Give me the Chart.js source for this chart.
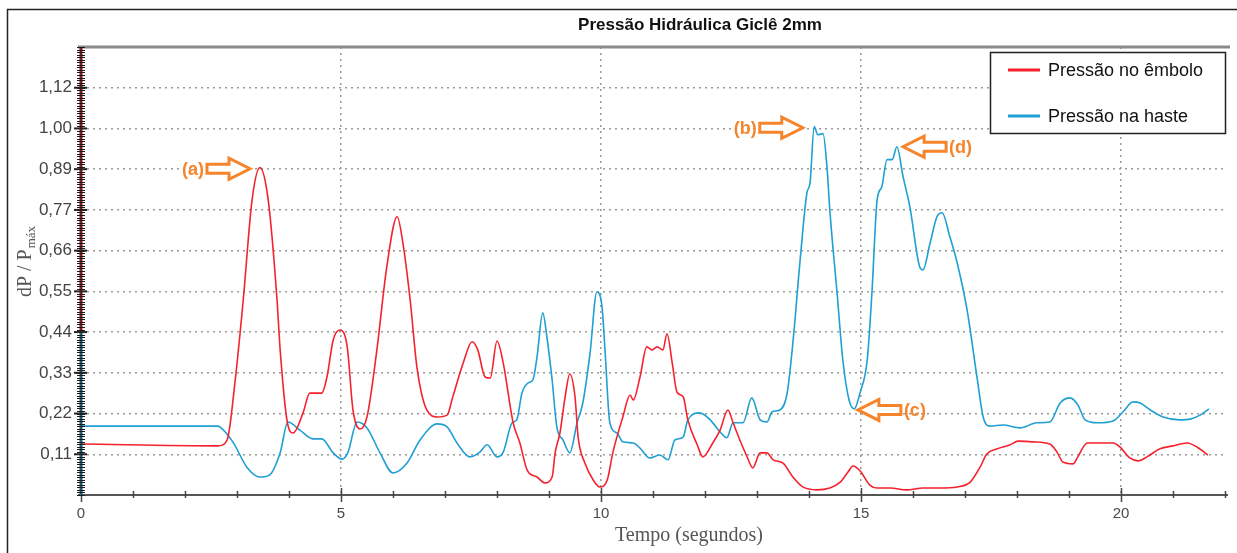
<!DOCTYPE html>
<html><head><meta charset="utf-8">
<script src="https://cdn.jsdelivr.net/npm/chart.js@4.4.0/dist/chart.umd.min.js"></script>
<style>html,body{margin:0;padding:0;background:#fff;}canvas{display:block;}</style>
</head><body>
<canvas id="c" width="1237" height="553"></canvas>
<script>
const chartTitle = 'Pressão Hidráulica Giclê 2mm';
const xAxisTitle = 'Tempo (segundos)';
const yAxisTitleMain = 'dP / P';
const yAxisTitleSub = 'máx';
const seriesNames = ['Pressão no êmbolo', 'Pressão na haste'];
const seriesColors = ['#f5222d', '#1f9fd3'];
const yTickLabels = ['0,11','0,22','0,33','0,44','0,55','0,66','0,77','0,89','1,00','1,12'];
const xLabelledTicks = [0, 5, 10, 15, 20];

const redTime = [0.00,2.63,2.81,2.96,3.12,3.29,3.44,3.60,3.77,3.83,
3.96,4.08,4.27,4.40,4.63,4.73,4.85,4.98,5.12,5.23,
5.37,5.50,5.69,5.88,6.08,6.19,6.33,6.46,6.65,6.85,
7.04,7.15,7.35,7.52,7.63,7.77,7.87,8.00,8.12,8.31,
8.44,8.58,8.77,8.92,9.06,9.12,9.21,9.31,9.40,9.50,
9.56,9.69,9.85,9.98,10.12,10.23,10.42,10.56,10.62,10.75,
10.88,10.98,11.08,11.19,11.27,11.37,11.46,11.58,11.67,11.85,
11.96,12.15,12.29,12.44,12.54,12.67,12.81,12.92,13.06,13.19,
13.31,13.50,13.69,13.88,14.15,14.40,14.60,14.75,14.85,14.98,
15.17,15.31,15.56,15.88,16.19,16.52,16.85,17.10,17.29,17.42,
17.62,17.87,18.02,18.31,18.63,18.77,18.88,19.08,19.17,19.35,
19.60,19.85,19.98,20.17,20.33,20.50,20.75,21.00,21.27,21.46,
21.67];
const redValue = [0.139,0.134,0.150,0.306,0.532,0.805,0.893,0.805,0.532,0.396,
0.205,0.169,0.224,0.278,0.278,0.322,0.423,0.450,0.404,0.232,
0.180,0.213,0.396,0.622,0.759,0.688,0.532,0.349,0.232,0.213,
0.218,0.268,0.360,0.418,0.396,0.322,0.319,0.420,0.360,0.197,
0.142,0.068,0.049,0.033,0.049,0.117,0.169,0.268,0.330,0.268,
0.158,0.087,0.041,0.022,0.041,0.117,0.213,0.273,0.259,0.322,
0.404,0.396,0.404,0.396,0.440,0.360,0.281,0.268,0.205,0.137,
0.104,0.142,0.177,0.232,0.197,0.150,0.104,0.074,0.115,0.115,
0.096,0.087,0.049,0.022,0.014,0.019,0.035,0.063,0.079,0.066,
0.027,0.019,0.019,0.014,0.019,0.019,0.022,0.035,0.076,0.112,
0.126,0.137,0.147,0.145,0.139,0.117,0.090,0.085,0.104,0.142,
0.142,0.142,0.131,0.101,0.093,0.104,0.126,0.134,0.142,0.131,
0.109];

const blueTime = [0.00,2.63,2.67,2.92,3.19,3.44,3.63,3.83,3.98,4.21,
4.46,4.63,4.85,5.02,5.13,5.31,5.50,5.75,6.00,6.27,
6.52,6.85,7.04,7.23,7.48,7.67,7.81,8.00,8.12,8.29,
8.38,8.48,8.60,8.69,8.77,8.88,8.96,9.06,9.15,9.27,
9.40,9.54,9.65,9.79,9.92,10.02,10.08,10.17,10.31,10.42,
10.62,10.75,10.94,11.13,11.29,11.42,11.58,11.67,11.90,12.10,
12.29,12.42,12.54,12.73,12.90,13.06,13.19,13.29,13.44,13.58,
13.69,13.83,13.96,14.02,14.10,14.17,14.27,14.35,14.40,14.54,
14.65,14.77,14.87,14.98,15.12,15.21,15.31,15.40,15.50,15.60,
15.69,15.81,15.94,16.13,16.19,16.33,16.46,16.56,16.71,16.85,
17.04,17.23,17.35,17.48,17.73,18.06,18.38,18.63,18.83,19.02,
19.17,19.31,19.54,19.85,20.04,20.23,20.37,20.56,20.81,21.13,
21.33,21.52,21.69];
const blueValue = [0.188,0.188,0.186,0.145,0.076,0.049,0.055,0.115,0.199,0.177,
0.153,0.153,0.115,0.098,0.115,0.199,0.183,0.115,0.060,0.087,
0.150,0.194,0.186,0.142,0.104,0.117,0.137,0.104,0.117,0.197,
0.205,0.278,0.306,0.314,0.377,0.497,0.431,0.314,0.186,0.150,
0.115,0.197,0.251,0.388,0.554,0.513,0.388,0.197,0.169,0.145,
0.142,0.128,0.101,0.109,0.096,0.150,0.158,0.205,0.224,0.205,
0.172,0.156,0.197,0.197,0.265,0.205,0.199,0.227,0.232,0.278,
0.415,0.642,0.824,0.852,1.005,0.983,0.986,0.887,0.778,0.551,
0.369,0.259,0.235,0.278,0.369,0.551,0.805,0.841,0.915,0.915,
0.950,0.868,0.786,0.622,0.614,0.688,0.759,0.770,0.704,0.633,
0.505,0.322,0.213,0.188,0.191,0.183,0.197,0.199,0.251,0.265,
0.246,0.205,0.197,0.202,0.227,0.254,0.251,0.232,0.213,0.205,
0.207,0.218,0.235];

const annotationLabels = ['(a)', '(b)', '(c)', '(d)'];
const annotationTime = [3.25, 13.88, 14.94, 15.81];
const annotationValue = [0.890, 1.002, 0.232, 0.950];
const annotationDir = ['right', 'right', 'left', 'left'];

const Y_STEP = 1 / 9;
const Y_MAX = 11 / 9;
const ORANGE = '#f6842a';

const decor = {
  id: 'decor',
  afterDatasetsDraw(chart) {
    const ctx = chart.ctx;
    const xs = chart.scales.x, ys = chart.scales.y;
    const a = chart.chartArea;
    ctx.save();
    // outer frame
    ctx.strokeStyle = '#222'; ctx.lineWidth = 1.5;
    ctx.beginPath(); ctx.moveTo(7.5, 553); ctx.lineTo(7.5, 9.5); ctx.lineTo(1237, 9.5); ctx.stroke();
    // top border of plot
    ctx.strokeStyle = '#8a8a8a'; ctx.lineWidth = 3;
    ctx.beginPath(); ctx.moveTo(a.left - 3, a.top); ctx.lineTo(a.right + 5, a.top); ctx.stroke();
    // x axis
    ctx.strokeStyle = '#555'; ctx.lineWidth = 2;
    ctx.beginPath(); ctx.moveTo(a.left - 3, a.bottom); ctx.lineTo(a.right + 3, a.bottom); ctx.stroke();
    ctx.strokeStyle = '#444'; ctx.lineWidth = 1.5;
    for (let t = 0; t <= 22; t++) {
      const px = Math.round(xs.getPixelForValue(t)) + 0.5;
      const big = t % 5 === 0;
      ctx.beginPath(); ctx.moveTo(px, a.bottom - (big ? 7 : 4)); ctx.lineTo(px, a.bottom + (big ? 7 : 3)); ctx.stroke();
    }
    // y axis ruler
    const split = ys.getPixelForValue(0.45);
    ctx.fillStyle = '#8a1c1c'; ctx.fillRect(a.left - 1.5, a.top, 3, split - a.top);
    ctx.fillStyle = '#1d5f80'; ctx.fillRect(a.left - 1.5, split, 3, a.bottom - split);
    ctx.lineWidth = 1;
    for (let k = 0; ; k++) {
      const v = k * Y_STEP / 16;
      if (v > Y_MAX + 1e-9) break;
      const py = Math.round(ys.getPixelForValue(v)) + 0.5;
      ctx.strokeStyle = '#1a1a1a';
      ctx.beginPath(); ctx.moveTo(a.left - 4, py); ctx.lineTo(a.left + 4, py); ctx.stroke();
    }
    ctx.lineWidth = 2; ctx.strokeStyle = '#222';
    for (let i = 1; i <= yTickLabels.length; i++) {
      const py = ys.getPixelForValue(i * Y_STEP);
      ctx.beginPath(); ctx.moveTo(a.left - 7, py); ctx.lineTo(a.left + 6, py); ctx.stroke();
    }
    // title
    ctx.fillStyle = '#111'; ctx.font = 'bold 17px "Liberation Sans", Arial, sans-serif';
    ctx.textAlign = 'center'; ctx.textBaseline = 'middle';
    ctx.fillText(chartTitle, 700, 25);
    // x axis title
    ctx.fillStyle = '#555'; ctx.font = '20px "Liberation Serif", "Times New Roman", serif';
    ctx.fillText(xAxisTitle, 689, 536);
    // y axis title
    ctx.save();
    ctx.translate(24, 262); ctx.rotate(-Math.PI / 2);
    ctx.textAlign = 'left'; ctx.textBaseline = 'alphabetic';
    const fMain = '20px "Liberation Serif", "Times New Roman", serif';
    const fSub = '13px "Liberation Serif", "Times New Roman", serif';
    ctx.font = fMain; const wMain = ctx.measureText(yAxisTitleMain).width;
    ctx.font = fSub; const wSub = ctx.measureText(yAxisTitleSub).width;
    const x0 = -(wMain + wSub) / 2;
    ctx.font = fMain; ctx.fillText(yAxisTitleMain, x0, 7);
    ctx.font = fSub; ctx.fillText(yAxisTitleSub, x0 + wMain + 1, 11);
    ctx.restore();
    // annotations
    for (let i = 0; i < annotationLabels.length; i++) {
      const tx = xs.getPixelForValue(annotationTime[i]);
      const ty = ys.getPixelForValue(annotationValue[i]);
      const d = annotationDir[i] === 'right' ? 1 : -1;
      const L = 43, hl = 21, h = 10.5, s = 4.5;
      ctx.beginPath();
      ctx.moveTo(tx - d * L, ty - s);
      ctx.lineTo(tx - d * hl, ty - s);
      ctx.lineTo(tx - d * hl, ty - h);
      ctx.lineTo(tx, ty);
      ctx.lineTo(tx - d * hl, ty + h);
      ctx.lineTo(tx - d * hl, ty + s);
      ctx.lineTo(tx - d * L, ty + s);
      ctx.closePath();
      ctx.fillStyle = '#fff'; ctx.fill();
      ctx.strokeStyle = ORANGE; ctx.lineWidth = 3; ctx.lineJoin = 'miter'; ctx.stroke();
      ctx.fillStyle = ORANGE; ctx.font = 'bold 18px "Liberation Sans", Arial, sans-serif';
      ctx.textBaseline = 'middle';
      ctx.textAlign = d === 1 ? 'right' : 'left';
      ctx.fillText(annotationLabels[i], tx - d * (L + 3), ty + 1);
    }
    // legend
    ctx.fillStyle = '#fff'; ctx.fillRect(990, 52, 236, 82);
    ctx.strokeStyle = '#222'; ctx.lineWidth = 1.5; ctx.strokeRect(990.5, 52.5, 235, 81);
    const ly = [70, 116];
    ctx.font = '18px "Liberation Sans", Arial, sans-serif';
    ctx.textAlign = 'left'; ctx.textBaseline = 'middle';
    for (let i = 0; i < seriesNames.length; i++) {
      ctx.strokeStyle = seriesColors[i]; ctx.lineWidth = 3;
      ctx.beginPath(); ctx.moveTo(1008, ly[i]); ctx.lineTo(1040, ly[i]); ctx.stroke();
      ctx.fillStyle = '#111';
      ctx.fillText(seriesNames[i], 1048, ly[i] + 1);
    }
    ctx.restore();
  }
};

new Chart(document.getElementById('c'), {
  type: 'line',
  data: {
    datasets: [
      { label: seriesNames[0], data: redTime.map((t, i) => ({ x: t, y: redValue[i] })),
        borderColor: seriesColors[0], borderWidth: 1.6, pointRadius: 0, cubicInterpolationMode: 'monotone', fill: false },
      { label: seriesNames[1], data: blueTime.map((t, i) => ({ x: t, y: blueValue[i] })),
        borderColor: seriesColors[1], borderWidth: 1.6, pointRadius: 0, cubicInterpolationMode: 'monotone', fill: false }
    ]
  },
  options: {
    responsive: false, animation: false, devicePixelRatio: 1,
    layout: { padding: { left: 0, right: 12, top: 47, bottom: 0 } },
    plugins: { legend: { display: false }, title: { display: false }, tooltip: { enabled: false } },
    scales: {
      x: {
        type: 'linear', min: 0, max: 22,
        afterFit(s) { s.height = 58; },
        ticks: { stepSize: 1, autoSkip: false, maxRotation: 0, padding: 10,
          color: '#4a4a4a', font: { family: '"Liberation Sans", Arial, sans-serif', size: 15 },
          callback: v => xLabelledTicks.includes(v) ? String(v) : '' },
        grid: { drawTicks: false, lineWidth: 1.5,
          color: c => (c.tick && xLabelledTicks.includes(c.tick.value) && c.tick.value !== 0) ? '#9a9a9a' : 'rgba(0,0,0,0)' },
        border: { display: false, dash: [2, 4] }
      },
      y: {
        type: 'linear', min: 0, max: Y_MAX,
        afterFit(s) { s.width = 81; },
        afterBuildTicks(s) { s.ticks = yTickLabels.map((l, i) => ({ value: (i + 1) * Y_STEP })); },
        ticks: { padding: 9, color: '#444',
          font: { family: '"Liberation Sans", Arial, sans-serif', size: 17 },
          callback: (v, i) => yTickLabels[i] },
        grid: { drawTicks: false, lineWidth: 1.5, color: '#9a9a9a' },
        border: { display: false, dash: [2, 4] }
      }
    }
  },
  plugins: [decor]
});
</script>
</body></html>
